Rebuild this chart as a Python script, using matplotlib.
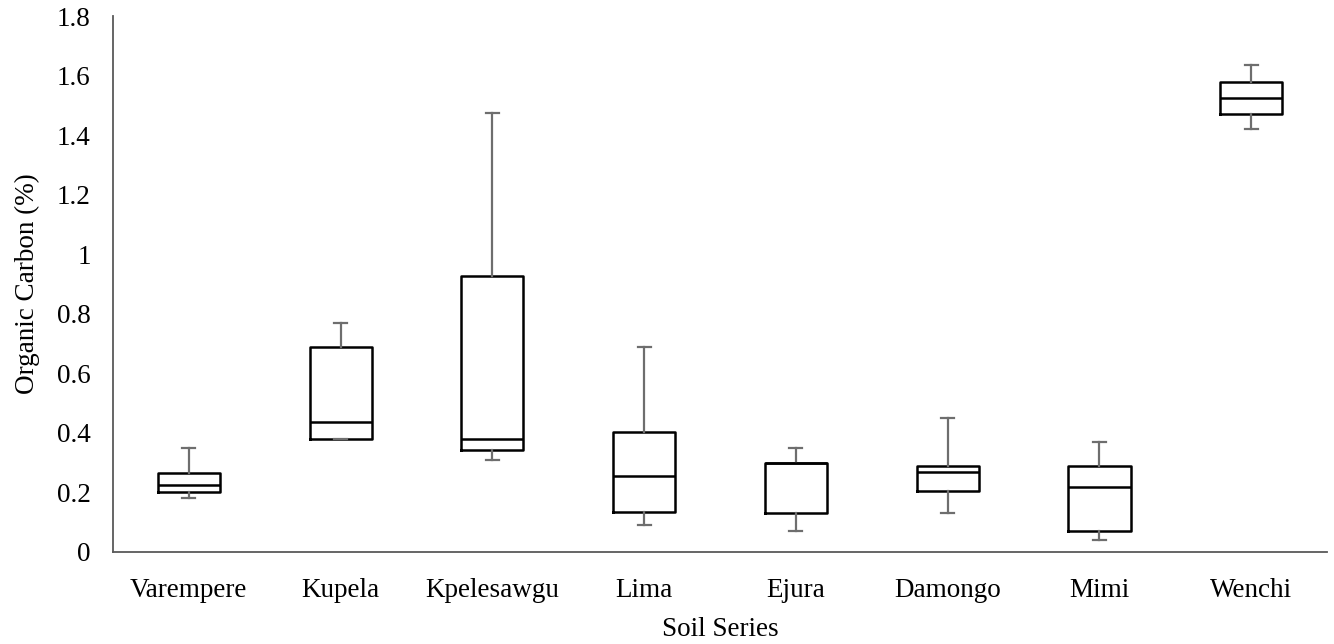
import matplotlib
matplotlib.use("Agg")
import matplotlib.pyplot as plt

plt.rcParams['font.family'] = ['Liberation Serif', 'DejaVu Serif']

# Soil series and box statistics (organic carbon, %)
series = ["Varempere", "Kupela", "Kpelesawgu", "Lima", "Ejura", "Damongo", "Mimi", "Wenchi"]
whisker_low = [0.18, 0.38, 0.31, 0.09, 0.07, 0.13, 0.04, 1.42]
q1 = [0.203, 0.38, 0.344, 0.134, 0.13, 0.204, 0.07, 1.471]
median = [0.225, 0.438, 0.379, 0.255, 0.30, 0.27, 0.219, 1.525]
q3 = [0.266, 0.688, 0.928, 0.403, 0.30, 0.288, 0.288, 1.58]
whisker_high = [0.35, 0.768, 1.475, 0.687, 0.35, 0.45, 0.37, 1.637]

stats = []
for i, name in enumerate(series):
    stats.append({
        "label": name,
        "whislo": whisker_low[i],
        "q1": q1[i],
        "med": median[i],
        "q3": q3[i],
        "whishi": whisker_high[i],
        "fliers": [],
    })

fig = plt.figure(figsize=(13.34, 6.44), dpi=100)
ax = fig.add_axes([0.0847, 0.1429, 0.9101, 0.8321])

positions = list(range(len(series)))
ax.bxp(stats, positions=positions, widths=0.41, showfliers=False,
       boxprops=dict(color='black', linewidth=1.8),
       medianprops=dict(color='black', linewidth=1.8),
       whiskerprops=dict(color='#6e6e6e', linewidth=1.6),
       capprops=dict(color='#6e6e6e', linewidth=1.6),
       capwidths=0.085)

fs = 19.5
ax.set_xlim(-0.5, len(series) - 0.5)
ax.set_ylim(0, 1.8)
ax.set_yticks([0, 0.2, 0.4, 0.6, 0.8, 1.0, 1.2, 1.4, 1.6, 1.8])
ax.set_yticklabels(["0", "0.2", "0.4", "0.6", "0.8", "1", "1.2", "1.4", "1.6", "1.8"])
ax.set_xticks(positions)
ax.set_xticklabels(series)
ax.tick_params(axis='both', length=0, labelsize=fs)
ax.tick_params(axis='x', pad=19)
ax.tick_params(axis='y', pad=16)

for side in ["top", "right"]:
    ax.spines[side].set_visible(False)
for side in ["left", "bottom"]:
    ax.spines[side].set_color('#595959')
    ax.spines[side].set_linewidth(1.3)

ax.set_xlabel("Soil Series", fontsize=fs, labelpad=10)
ax.set_ylabel("Organic Carbon (%)", fontsize=fs, labelpad=12)

fig.savefig("out.png", dpi=100)
